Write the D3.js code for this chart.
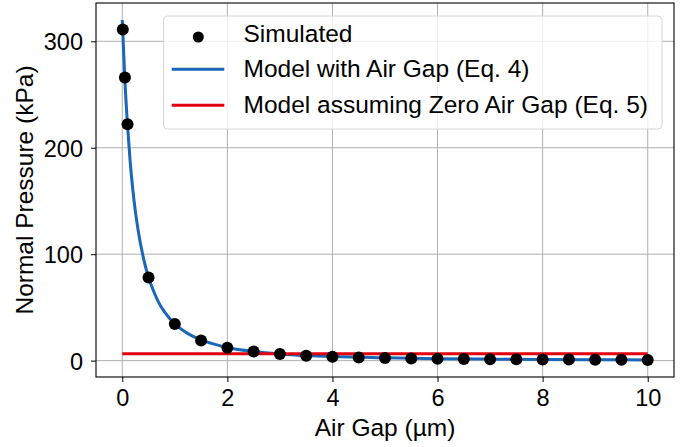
<!DOCTYPE html>
<html>
<head>
<meta charset="utf-8">
<script src="https://cdn.jsdelivr.net/npm/d3@7/dist/d3.min.js"></script>
<style>
  body { margin: 0; background: #fff; }
  text { font-family: "Liberation Sans", Arial, sans-serif; }
</style>
</head>
<body>
<div id="chart"></div>
<script>
// simulated points (air gap in um, pressure in kPa)
const simGap = [0.01, 0.05, 0.1, 0.5, 1, 1.5, 2, 2.5, 3, 3.5, 4, 4.5, 5, 5.5, 6, 6.5, 7, 7.5, 8, 8.5, 9, 9.5, 10];
const simPressure = [311, 266, 222, 78, 34.5, 19, 12, 8.5, 6.2, 4.7, 3.6, 3.0, 2.4, 2.1, 1.8, 1.6, 1.4, 1.2, 1.1, 1.0, 0.9, 0.8, 0.6];

// model with air gap (Eq. 4)
const modelGap = [0, 0.05, 0.1, 0.15, 0.2, 0.25, 0.3, 0.4, 0.5, 0.6, 0.7, 0.8, 1, 1.2, 1.5, 1.75, 2, 2.5, 3, 3.5, 4, 5, 6, 7, 8, 9, 10];
const modelPressure = [320, 263, 221, 187, 161, 140, 123, 97, 78, 65, 54, 46, 34.6, 27, 19.6, 15.5, 12.4, 8.6, 6.3, 4.8, 3.8, 2.6, 1.8, 1.4, 1.1, 0.9, 0.7];

// model assuming zero air gap (Eq. 5)
const zeroGap = [0, 10];
const zeroPressure = [6.5, 6.5];

const xTicks = [0, 2, 4, 6, 8, 10];
const yTicks = [0, 100, 200, 300];
const legendLabels = ["Simulated", "Model with Air Gap (Eq. 4)", "Model assuming Zero Air Gap (Eq. 5)"];

const width = 691, height = 447;
const margin = {top: 3, right: 17, bottom: 70, left: 96};
const blue = "#1a66b8", red = "#e3000f";
const tickFont = "23.5px 'Liberation Sans', Arial, sans-serif";

const svg = d3.select("#chart").append("svg")
	.attr("width", width)
	.attr("height", height);

// matplotlib-like 5% margins
const allY = simPressure.concat(modelPressure, zeroPressure);
const yMin = d3.min(allY), yMax = d3.max(allY);
const yPad = (yMax - yMin) * 0.05;

const x = d3.scaleLinear()
	.domain([-0.5, 10.5])
	.range([margin.left, width - margin.right]);

const y = d3.scaleLinear()
	.domain([yMin - yPad, yMax + yPad])
	.range([height - margin.bottom, margin.top]);

const x0 = margin.left, x1 = width - margin.right;
const y0 = height - margin.bottom, y1 = margin.top;

// grid
svg.append("g").selectAll("line")
	.data(xTicks).enter()
	.append("line")
	.attr("x1", d => x(d)).attr("x2", d => x(d))
	.attr("y1", y0).attr("y2", y1)
	.attr("stroke", "#b0b0b0").attr("stroke-width", 1);

svg.append("g").selectAll("line")
	.data(yTicks).enter()
	.append("line")
	.attr("x1", x0).attr("x2", x1)
	.attr("y1", d => y(d)).attr("y2", d => y(d))
	.attr("stroke", "#b0b0b0").attr("stroke-width", 1);

svg.append("clipPath").attr("id", "clip")
	.append("rect")
	.attr("x", x0).attr("y", y1)
	.attr("width", x1 - x0).attr("height", y0 - y1);

const plot = svg.append("g").attr("clip-path", "url(#clip)");

const line = d3.line()
	.x(d => x(d[0]))
	.y(d => y(d[1]))
	.curve(d3.curveMonotoneX);

plot.append("path")
	.datum(modelGap.map((g, i) => [g, modelPressure[i]]))
	.attr("fill", "none")
	.attr("stroke", blue)
	.attr("stroke-width", 3)
	.attr("d", line);

plot.append("path")
	.datum(zeroGap.map((g, i) => [g, zeroPressure[i]]))
	.attr("fill", "none")
	.attr("stroke", red)
	.attr("stroke-width", 3)
	.attr("d", d3.line().x(d => x(d[0])).y(d => y(d[1])));

plot.selectAll("circle")
	.data(simGap.map((g, i) => [g, simPressure[i]])).enter()
	.append("circle")
	.attr("cx", d => x(d[0]))
	.attr("cy", d => y(d[1]))
	.attr("r", 6)
	.attr("fill", "#000");

// axes
const xAxis = g => g
	.attr("transform", `translate(0,${y0})`)
	.call(d3.axisBottom(x).tickValues(xTicks).tickSize(5).tickPadding(7.5));

const yAxis = g => g
	.attr("transform", `translate(${x0},0)`)
	.call(d3.axisLeft(y).tickValues(yTicks).tickSize(5).tickPadding(8));

svg.append("g")
	.style("font", tickFont)
	.call(xAxis)
	.call(g => g.select(".domain").remove())
	.call(g => g.selectAll("text").attr("fill", "#000"));

svg.append("g")
	.style("font", tickFont)
	.call(yAxis)
	.call(g => g.select(".domain").remove())
	.call(g => g.selectAll("text").attr("fill", "#000").attr("dy", "0.36em"));

svg.append("rect")
	.attr("x", x0).attr("y", y1)
	.attr("width", x1 - x0).attr("height", y0 - y1)
	.attr("fill", "none")
	.attr("stroke", "#000")
	.attr("stroke-width", 1.1);

// axis labels
svg.append("text")
	.attr("x", (x0 + x1) / 2)
	.attr("y", 435.5)
	.attr("text-anchor", "middle")
	.style("font-size", "24.5px")
	.text("Air Gap (µm)");

svg.append("text")
	.attr("transform", `translate(32.5,${(y0 + y1) / 2}) rotate(-90)`)
	.attr("text-anchor", "middle")
	.style("font-size", "24.5px")
	.text("Normal Pressure (kPa)");

// legend
const legend = svg.append("g");
legend.append("rect")
	.attr("x", 163.5).attr("y", 16)
	.attr("width", 498.5).attr("height", 113)
	.attr("rx", 4)
	.attr("fill", "#fff")
	.attr("fill-opacity", 0.8)
	.attr("stroke", "#d6d6d6")
	.attr("stroke-width", 1);

const baselines = [41.7, 77.2, 112.7];
legend.append("circle")
	.attr("cx", 198.3).attr("cy", 37)
	.attr("r", 5.5)
	.attr("fill", "#000");

legend.append("line")
	.attr("x1", 171.7).attr("x2", 224.3)
	.attr("y1", 69.3).attr("y2", 69.3)
	.attr("stroke", blue).attr("stroke-width", 3);

legend.append("line")
	.attr("x1", 171.7).attr("x2", 224.3)
	.attr("y1", 105.3).attr("y2", 105.3)
	.attr("stroke", red).attr("stroke-width", 3);

legend.selectAll("text")
	.data(legendLabels).enter()
	.append("text")
	.attr("x", 243.5)
	.attr("y", (d, i) => baselines[i])
	.style("font-size", "24.5px")
	.text(d => d);
</script>
</body>
</html>
